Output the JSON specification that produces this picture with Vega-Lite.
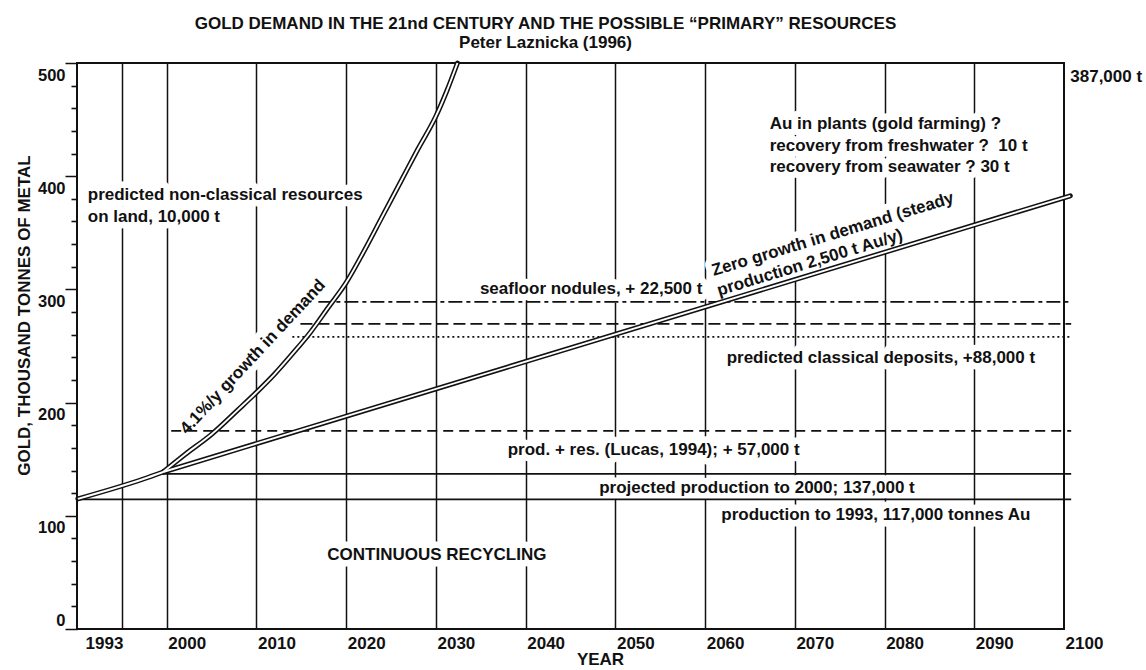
{
  "$schema": "https://vega.github.io/schema/vega-lite/v6.json",
  "width": 987,
  "height": 566,
  "autosize": {"type": "none"},
  "padding": {"left": 77, "top": 63, "right": 82, "bottom": 41},
  "background": "white",
  "title": {
    "text": "GOLD DEMAND IN THE 21nd CENTURY AND THE POSSIBLE “PRIMARY” RESOURCES",
    "subtitle": "Peter Laznicka (1996)",
    "font": "Liberation Sans",
    "fontSize": 17,
    "fontWeight": "bold",
    "color": "#111",
    "subtitleFont": "Liberation Sans",
    "subtitleFontSize": 17,
    "subtitleFontWeight": "bold",
    "subtitleColor": "#111",
    "subtitlePadding": 2,
    "anchor": "middle",
    "dx": -25,
    "offset": 1
  },
  "config": {
    "view": {"stroke": "#111", "strokeWidth": 2},
    "font": "Liberation Sans",
    "axis": {
      "labelFont": "Liberation Sans",
      "titleFont": "Liberation Sans",
      "labelFontWeight": "bold",
      "titleFontWeight": "bold",
      "labelColor": "#111",
      "titleColor": "#111"
    },
    "text": {"font": "Liberation Sans", "fontWeight": "bold", "fontSize": 17, "color": "#111"}
  },
  "datasets": {
    "paths": [
      {"scenario": "production to 2000", "year": 1990.1, "gold": 115},
      {"scenario": "production to 2000", "year": 1997.4, "gold": 132.5},
      {"scenario": "production to 2000", "year": 1999.6, "gold": 138.7},
      {"scenario": "zero growth in demand", "year": 1999.6, "gold": 138.7},
      {"scenario": "zero growth in demand", "year": 2100.7, "gold": 382.7},
      {"scenario": "4.1%/y growth in demand", "year": 1999.6, "gold": 138.7},
      {"scenario": "4.1%/y growth in demand", "year": 2002, "gold": 154},
      {"scenario": "4.1%/y growth in demand", "year": 2005, "gold": 172},
      {"scenario": "4.1%/y growth in demand", "year": 2008, "gold": 194},
      {"scenario": "4.1%/y growth in demand", "year": 2010, "gold": 209},
      {"scenario": "4.1%/y growth in demand", "year": 2012, "gold": 225},
      {"scenario": "4.1%/y growth in demand", "year": 2014, "gold": 243},
      {"scenario": "4.1%/y growth in demand", "year": 2016, "gold": 262},
      {"scenario": "4.1%/y growth in demand", "year": 2018, "gold": 284},
      {"scenario": "4.1%/y growth in demand", "year": 2020, "gold": 306},
      {"scenario": "4.1%/y growth in demand", "year": 2022, "gold": 334},
      {"scenario": "4.1%/y growth in demand", "year": 2024, "gold": 364},
      {"scenario": "4.1%/y growth in demand", "year": 2026, "gold": 394},
      {"scenario": "4.1%/y growth in demand", "year": 2028, "gold": 424},
      {"scenario": "4.1%/y growth in demand", "year": 2030, "gold": 453},
      {"scenario": "4.1%/y growth in demand", "year": 2031.2, "gold": 475},
      {"scenario": "4.1%/y growth in demand", "year": 2032.4, "gold": 500}
    ],
    "levels": [
      {"resource": "production to 1993", "gold": 114.5, "from": 1990, "to": 2100.8},
      {"resource": "projected production to 2000", "gold": 137, "from": 1999.6, "to": 2100.8},
      {"resource": "prod. + res. (Lucas, 1994)", "gold": 175, "from": 2000.5, "to": 2100.8},
      {"resource": "predicted classical deposits", "gold": 258, "from": 2014, "to": 2100.8},
      {"resource": "non-classical resources on land", "gold": 269.5, "from": 2014.9, "to": 2100.8},
      {"resource": "seafloor nodules", "gold": 289, "from": 2016.9, "to": 2100.8}
    ],
    "notes": [
      {"note": "predicted non-classical resources", "year": 1991.2, "gold": 383.4},
      {"note": "on land, 10,000 t", "year": 1991.2, "gold": 364},
      {"note": "Au in plants (gold farming) ?", "year": 2067.2, "gold": 446},
      {"note": "recovery from freshwater ? \u00a010 t", "year": 2067.2, "gold": 426.7},
      {"note": "recovery from seawater ? 30 t", "year": 2067.2, "gold": 408},
      {"note": "seafloor nodules, + 22,500 t", "year": 2034.9, "gold": 300.4},
      {"note": "predicted classical deposits, +88,000 t", "year": 2062.4, "gold": 239.4},
      {"note": "prod. + res. (Lucas, 1994); + 57,000 t", "year": 2038.0, "gold": 158},
      {"note": "projected production to 2000; 137,000 t", "year": 2048.2, "gold": 124.6},
      {"note": "production to 1993, 117,000 tonnes Au", "year": 2061.8, "gold": 100.7},
      {"note": "CONTINUOUS RECYCLING", "year": 2017.9, "gold": 65.4},
      {"note": "387,000 t", "year": 2100.7, "gold": 487.5}
    ],
    "growthNote": [
      {"note": "4.1%/y growth in demand", "year": 2009.6, "gold": 240.3}
    ],
    "zeroNote": [
      {"note": "Zero growth in demand (steady", "year": 2060.8, "gold": 316},
      {"note": "production 2,500 t Au/y)", "year": 2061.4, "gold": 298.5}
    ]
  },
  "layer": [
    {
      "data": {"name": "notes"},
      "transform": [{"filter": "datum.note !== '387,000 t'"}],
      "mark": {"type": "text", "align": "left", "baseline": "middle", "stroke": "white", "strokeWidth": 13, "strokeJoin": "round", "color": "white"},
      "encoding": {
        "x": {"field": "year", "type": "quantitative", "scale": {"domain": [1990, 2100], "nice": false, "zero": false},
          "axis": {"orient": "top", "grid": true, "values": [1995, 2000, 2010, 2020, 2030, 2040, 2050, 2060, 2070, 2080, 2090], "gridColor": "#111", "gridWidth": 1.5, "gridOpacity": 1, "labels": false, "ticks": false, "domain": false, "title": null}},
        "y": {"field": "gold", "type": "quantitative", "scale": {"domain": [0, 500], "nice": false, "zero": false},
          "axis": {
            "orient": "left",
            "grid": false, "domain": false,
            "values": [0, 20, 40, 60, 80, 100, 120, 140, 160, 180, 200, 220, 240, 260, 280, 300, 320, 340, 360, 380, 400, 420, 440, 460, 480, 500],
            "labelExpr": "datum.value % 100 === 0 ? datum.label : ''",
            "tickSize": 12,
            "tickDash": {"condition": {"test": "datum.value % 100 !== 0", "value": [6, 30]}, "value": [1, 0]},
            "tickWidth": 1.6, "tickColor": "#111",
            "labelFontSize": 16.5, "labelPadding": 0, "labelOverlap": false,
            "labelOffset": {"condition": {"test": "datum.value === 0", "value": -9}, "value": 12},
            "title": "GOLD, THOUSAND TONNES OF METAL",
            "titleFontSize": 17, "titleX": -53, "titleY": 252, "titleAngle": -90, "titleAlign": "center", "titleBaseline": "middle"
          }},
        "text": {"field": "note", "type": "nominal"}
      }
    },
    {
      "data": {"name": "growthNote"},
      "mark": {"type": "text", "align": "center", "baseline": "middle", "angle": -47, "stroke": "white", "strokeWidth": 13, "strokeJoin": "round", "color": "white"},
      "encoding": {
        "x": {"field": "year", "type": "quantitative", "scale": {"domain": [1990, 2100], "nice": false, "zero": false}, "axis": null},
        "y": {"field": "gold", "type": "quantitative", "scale": {"domain": [0, 500], "nice": false, "zero": false}, "axis": null},
        "text": {"field": "note", "type": "nominal"}
      }
    },
    {
      "data": {"name": "zeroNote"},
      "mark": {"type": "text", "align": "left", "baseline": "middle", "angle": -17, "stroke": "white", "strokeWidth": 13, "strokeJoin": "round", "color": "white"},
      "encoding": {
        "x": {"field": "year", "type": "quantitative", "scale": {"domain": [1990, 2100], "nice": false, "zero": false}, "axis": null},
        "y": {"field": "gold", "type": "quantitative", "scale": {"domain": [0, 500], "nice": false, "zero": false}, "axis": null},
        "text": {"field": "note", "type": "nominal"}
      }
    },
    {
      "data": {"name": "levels"},
      "mark": {"type": "rule", "strokeWidth": 1.7, "color": "#111"},
      "encoding": {
        "x": {"field": "from", "type": "quantitative", "scale": {"domain": [1990, 2100], "nice": false, "zero": false},
          "axis": {
            "orient": "bottom", "grid": false, "ticks": false, "domain": false,
            "values": [1993, 2000, 2010, 2020, 2030, 2040, 2050, 2060, 2070, 2080, 2090, 2100],
            "format": "d", "labelFontSize": 17, "labelPadding": 6, "labelFlush": false, "labelOverlap": false,
            "labelOffset": {"condition": {"test": "datum.value === 1993", "value": 0}, "value": 20},
            "title": "YEAR", "titleFontSize": 17, "titleX": 523, "titleY": 30, "titleBaseline": "middle"
          }},
        "x2": {"field": "to"},
        "y": {"field": "gold", "type": "quantitative", "scale": {"domain": [0, 500], "nice": false, "zero": false}, "axis": null},
        "strokeDash": {"field": "resource", "type": "nominal", "legend": null,
          "scale": {
            "domain": ["production to 1993", "projected production to 2000", "prod. + res. (Lucas, 1994)", "predicted classical deposits", "non-classical resources on land", "seafloor nodules"],
            "range": [[1, 0], [1, 0], [10, 6], [2, 3], [12, 5], [14, 4, 4, 4]]
          }}
      }
    },
    {
      "data": {"name": "paths"},
      "mark": {"type": "line", "strokeWidth": 5, "color": "#111", "strokeCap": "round", "interpolate": "monotone"},
      "encoding": {
        "x": {"field": "year", "type": "quantitative", "scale": {"domain": [1990, 2100], "nice": false, "zero": false}, "axis": null},
        "y": {"field": "gold", "type": "quantitative", "scale": {"domain": [0, 500], "nice": false, "zero": false}, "axis": null},
        "detail": {"field": "scenario", "type": "nominal"}
      }
    },
    {
      "data": {"name": "paths"},
      "mark": {"type": "line", "strokeWidth": 1.9, "color": "white", "strokeCap": "butt", "interpolate": "monotone"},
      "encoding": {
        "x": {"field": "year", "type": "quantitative", "scale": {"domain": [1990, 2100], "nice": false, "zero": false}, "axis": null},
        "y": {"field": "gold", "type": "quantitative", "scale": {"domain": [0, 500], "nice": false, "zero": false}, "axis": null},
        "detail": {"field": "scenario", "type": "nominal"}
      }
    },
    {
      "data": {"name": "notes"},
      "mark": {"type": "text", "align": "left", "baseline": "middle"},
      "encoding": {
        "x": {"field": "year", "type": "quantitative", "scale": {"domain": [1990, 2100], "nice": false, "zero": false}, "axis": null},
        "y": {"field": "gold", "type": "quantitative", "scale": {"domain": [0, 500], "nice": false, "zero": false}, "axis": null},
        "text": {"field": "note", "type": "nominal"}
      }
    },
    {
      "data": {"name": "growthNote"},
      "mark": {"type": "text", "align": "center", "baseline": "middle", "angle": -47},
      "encoding": {
        "x": {"field": "year", "type": "quantitative", "scale": {"domain": [1990, 2100], "nice": false, "zero": false}, "axis": null},
        "y": {"field": "gold", "type": "quantitative", "scale": {"domain": [0, 500], "nice": false, "zero": false}, "axis": null},
        "text": {"field": "note", "type": "nominal"}
      }
    },
    {
      "data": {"name": "zeroNote"},
      "mark": {"type": "text", "align": "left", "baseline": "middle", "angle": -17},
      "encoding": {
        "x": {"field": "year", "type": "quantitative", "scale": {"domain": [1990, 2100], "nice": false, "zero": false}, "axis": null},
        "y": {"field": "gold", "type": "quantitative", "scale": {"domain": [0, 500], "nice": false, "zero": false}, "axis": null},
        "text": {"field": "note", "type": "nominal"}
      }
    }
  ],
  "resolve": {"axis": {"x": "independent", "y": "independent"}}
}
